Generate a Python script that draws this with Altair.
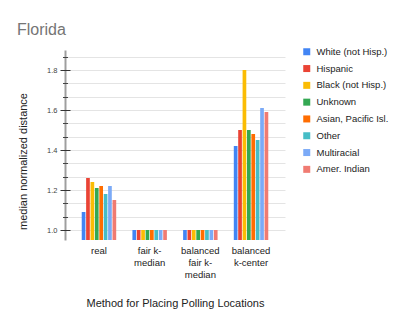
import altair as alt
import pandas as pd

methods = ["real", "fair k-median", "balanced fair k-median", "balanced k-center"]
groups = ["White (not Hisp.)", "Hispanic", "Black (not Hisp.)", "Unknown",
          "Asian, Pacific Isl.", "Other", "Multiracial", "Amer. Indian"]
colors = ["#4285F4", "#EA4335", "#FBBC04", "#34A853",
          "#FF6D01", "#46BDC6", "#7BAAF7", "#F07B72"]

real_vals = [1.09, 1.26, 1.24, 1.21, 1.22, 1.18, 1.22, 1.15]
fair_kmedian_vals = [1.0, 1.0, 1.0, 1.0, 1.0, 1.0, 1.0, 1.0]
balanced_fair_kmedian_vals = [1.0, 1.0, 1.0, 1.0, 1.0, 1.0, 1.0, 1.0]
balanced_kcenter_vals = [1.42, 1.50, 1.80, 1.50, 1.48, 1.45, 1.61, 1.59]

major_ticks = [1.0, 1.2, 1.4, 1.6, 1.8]
minor_ticks = [1.0, 1.0667, 1.1333, 1.2, 1.2667, 1.3333, 1.4, 1.4667,
               1.5333, 1.6, 1.6667, 1.7333, 1.8, 1.8667]

rows = []
for m, vals in zip(methods, [real_vals, fair_kmedian_vals,
                             balanced_fair_kmedian_vals, balanced_kcenter_vals]):
    for g, v in zip(groups, vals):
        rows.append({"method": m, "group": g, "value": v})
df = pd.DataFrame(rows)

FONT = "Liberation Sans"
yscale = alt.Scale(domain=[0.95, 1.9], zero=False, nice=False)

label_expr = ("datum.value == 'fair k-median' ? ['fair k-', 'median'] : "
              "datum.value == 'balanced fair k-median' ? ['balanced', 'fair k-', 'median'] : "
              "datum.value == 'balanced k-center' ? ['balanced', 'k-center'] : datum.label")

x_enc = alt.X("method:N", sort=methods,
              scale=alt.Scale(paddingInner=0.32, paddingOuter=0.33),
              axis=alt.Axis(title="Method for Placing Polling Locations",
                            labelAngle=0, labelExpr=label_expr, labelLineHeight=12,
                            labelFontSize=9.5, labelColor="#222", labelFont=FONT,
                            labelPadding=5, ticks=False, domain=False,
                            titleFont=FONT, titleFontSize=11, titleFontWeight="normal",
                            titleColor="#222", titleY=66, titleBaseline="alphabetic"))

bars = alt.Chart(df).mark_bar(clip=True).encode(
    x=x_enc,
    xOffset=alt.XOffset("group:N", sort=groups, scale=alt.Scale(paddingInner=0.16)),
    y=alt.Y("value:Q", scale=yscale,
            axis=alt.Axis(title="median normalized distance", orient="left",
                          values=minor_ticks, format=".1f",
                          labelExpr="indexof(['1.0','1.2','1.4','1.6','1.8'], datum.label) >= 0 ? datum.label : ''",
                          labelFontSize=7.5, labelColor="#444", labelFont=FONT,
                          labelPadding=8, ticks=False, tickSize=0,
                          domain=True, domainColor="#9e9e9e", domainWidth=2,
                          grid=True, gridColor="#e4e4e4", gridWidth=1,
                          titleFont=FONT, titleFontSize=11, titleFontWeight="normal",
                          titleColor="#222", titleX=-39, titleY=111,
                          titleAngle=-90, titleBaseline="alphabetic", titleAlign="center")),
    color=alt.Color("group:N", sort=groups,
                    scale=alt.Scale(domain=groups, range=colors),
                    legend=alt.Legend(title=None, orient="none", legendX=237, legendY=-3,
                                      symbolType="square", symbolSize=49,
                                      symbolStrokeWidth=0, labelFontSize=9.5,
                                      labelFont=FONT, labelColor="#222",
                                      rowPadding=5.8, labelOffset=5, padding=0,
                                      labelLimit=200)),
)

minor_axis = alt.Chart(df).mark_point(opacity=0).encode(
    y=alt.Y("value:Q", scale=yscale,
            axis=alt.Axis(title=None, orient="left", values=minor_ticks,
                          labels=False, domain=False, grid=False,
                          ticks=True, tickSize=5, offset=-2.5,
                          tickColor="#444", tickWidth=1)),
)

major_axis = alt.Chart(df).mark_point(opacity=0).encode(
    y=alt.Y("value:Q", scale=yscale,
            axis=alt.Axis(title=None, orient="left", values=major_ticks,
                          labels=False, domain=False, grid=False,
                          ticks=True, tickSize=10, offset=-5,
                          tickColor="#333", tickWidth=1)),
)

chart = alt.layer(bars, minor_axis, major_axis).resolve_axis(y="independent").properties(
    width=220, height=190,
    autosize=alt.AutoSizeParams(type="none"),
    padding={"left": 57, "top": 42, "right": 109, "bottom": 70},
    title=alt.TitleParams("Florida", anchor="start", frame="group", dx=-48,
                          fontSize=16, color="#757575", font=FONT,
                          fontWeight="normal", offset=9),
).configure_view(stroke=None)

chart.save("out.html", embed_options={"renderer": "svg", "actions": False})
